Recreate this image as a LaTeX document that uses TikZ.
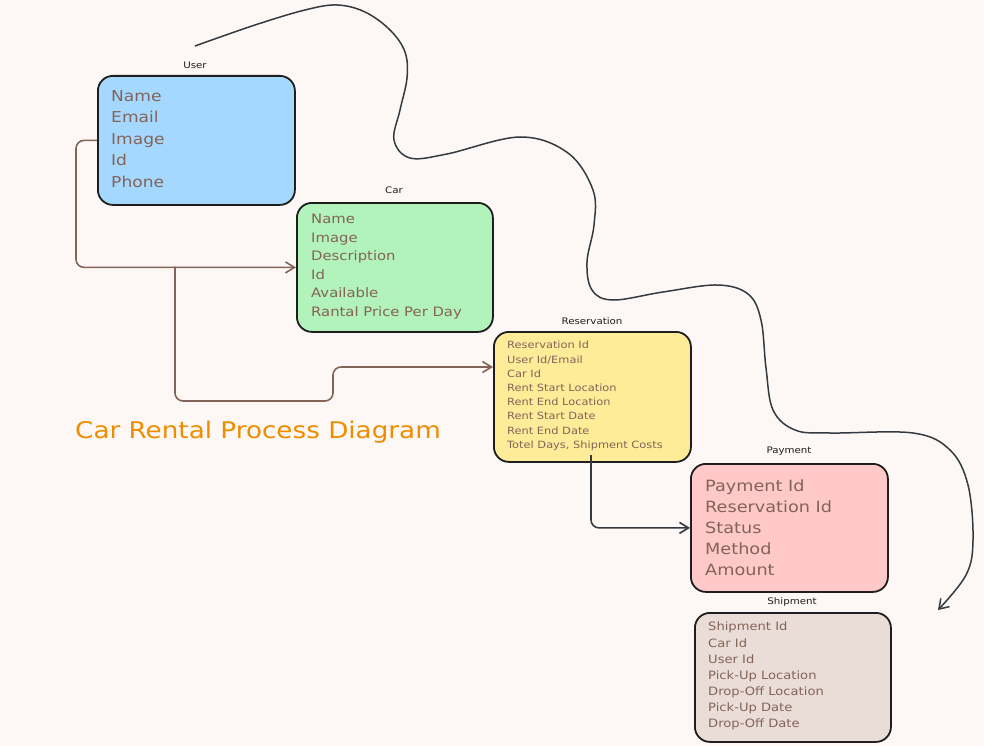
\documentclass[tikz,border=0pt]{standalone}
\usepackage{fontspec}
\setmainfont[FakeStretch=1.14]{DejaVu Sans}
\usetikzlibrary{arrows.meta}
\definecolor{bg}{HTML}{FDF8F6}
\definecolor{ink}{HTML}{1E1E1E}
\definecolor{brownink}{HTML}{846358}
\definecolor{darkink}{HTML}{343A40}
\definecolor{ublue}{HTML}{A5D8FF}
\definecolor{cgreen}{HTML}{B2F2BB}
\definecolor{ryellow}{HTML}{FFEC99}
\definecolor{pred}{HTML}{FFC9C9}
\definecolor{sbrown}{HTML}{EADDD7}
\definecolor{orangeink}{HTML}{F08C00}
\tikzset{
  box/.style={draw=ink, line width=1.8pt, rounded corners=15pt, anchor=north west, inner sep=0pt},
  fields/.style={text=brownink, align=left, anchor=north west, inner sep=0pt},
  boxtitle/.style={text=ink, font=\fontsize{9}{11}\selectfont, inner sep=0pt},
  brownarrow/.style={draw=brownink, line width=1.6pt, rounded corners=8pt, -{Straight Barb[length=9pt,width=11pt,line width=1.6pt]}},
  darkarrow/.style={draw=darkink, line width=1.6pt, rounded corners=8pt, -{Straight Barb[length=9pt,width=11pt,line width=1.6pt]}},
}
\begin{document}
\begin{tikzpicture}[x=1pt,y=-1pt]
\fill[bg] (0,0) rectangle (984,746);
\useasboundingbox (0,0) rectangle (984,746);

% boxes
\node[box, fill=ublue, minimum width=197pt, minimum height=129pt] (user) at (97,75) {};
\node[box, fill=cgreen, minimum width=196pt, minimum height=129pt] (car) at (296,202) {};
\node[box, fill=ryellow, minimum width=197pt, minimum height=130pt] (res) at (493,331) {};
\node[box, fill=pred, minimum width=197pt, minimum height=128pt] (pay) at (690,463) {};
\node[box, fill=sbrown, minimum width=196pt, minimum height=129pt] (ship) at (694,612) {};

% titles
\node[boxtitle] (usert) at (195,65) {User};
\node[boxtitle] (cart) at (394,190) {Car};
\node[boxtitle] (rest) at (592,321) {Reservation};
\node[boxtitle] (payt) at (789,451) {Payment};
\node[boxtitle] (shipt) at (792,602) {Shipment};

% fields
\node[fields, font=\fontsize{15}{21.5}\selectfont] (userf) at (111,90) {Name\\Email\\Image\\Id\\Phone};
\node[fields, font=\fontsize{13}{18.5}\selectfont] (carf) at (311,214) {Name\\Image\\Description\\Id\\Available\\Rantal Price Per Day};
\node[fields, font=\fontsize{10}{14.2}\selectfont] (resf) at (507,341) {Reservation Id\\User Id/Email\\Car Id\\Rent Start Location\\Rent End Location\\Rent Start Date\\Rent End Date\\Totel Days, Shipment Costs};
\node[fields, font=\fontsize{15.5}{21}\selectfont] (payf) at (705,480) {Payment Id\\Reservation Id\\Status\\Method\\Amount};
\node[fields, font=\fontsize{11.5}{16.1}\selectfont] (shipf) at (708,622) {Shipment Id\\Car Id\\User Id\\Pick-Up Location\\Drop-Off Location\\Pick-Up Date\\Drop-Off Date};

% main title
\node[text=orangeink, font=\fontsize{23}{28}\selectfont, anchor=west, inner sep=0pt] (maintitle) at (75,432) {Car Rental Process Diagram};

% connectors
\coordinate (split) at (175,266.5);
\coordinate (resin) at (493,367);
\coordinate (resout) at (591,455);
\draw[brownarrow] (user.west) -| (76,200) |- (car.west);
\draw[brownarrow] (split) |- (333,401) |- (resin);
\draw[darkarrow] (resout) |- (pay.west);

% long curve
\coordinate (cs) at (195,46);
\coordinate (ce) at (938,610);
\draw[draw=darkink, line width=1.5pt, -{Straight Barb[length=9pt,width=12pt,line width=1.5pt]}]
  plot[smooth, tension=0.6] coordinates {(cs) (255,25) (305,10) (337,5) (365,12) (390,30) (405,52) (407,78) (400,110) (394,140) (410,158) (447,154) (520,137) (568,153) (593,190) (594,225) (587,262) (592,290) (613,300) (663,292) (717,285) (748,294) (761,320) (766,368) (773,410) (795,430) (830,433) (913,433) (950,450) (968,485) (973,540) (966,575) (ce)};
\end{tikzpicture}
\end{document}
